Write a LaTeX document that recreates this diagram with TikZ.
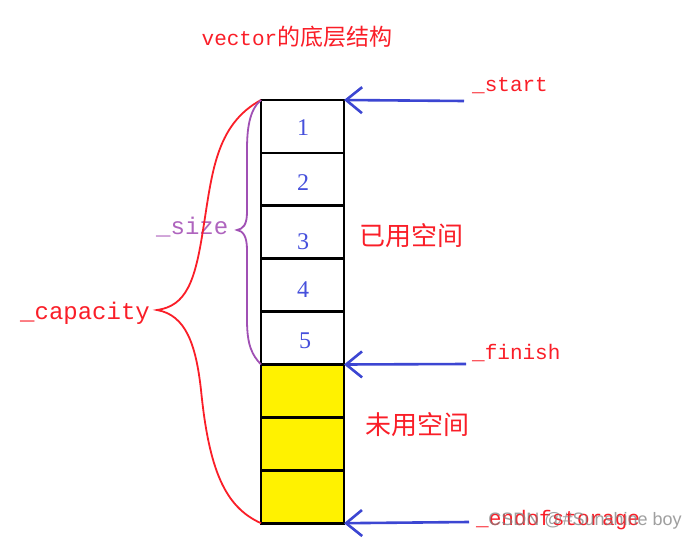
\documentclass[tikz,border=0pt]{standalone}
\usepackage{fontspec}
\setmainfont{Liberation Serif}
\newfontfamily\monof{Liberation Mono}
\newfontfamily\cjkf{Noto Sans CJK SC}
\newfontfamily\wmf{Liberation Sans}
\usetikzlibrary{arrows.meta}
\definecolor{rd}{RGB}{250,30,40}
\definecolor{bl}{RGB}{60,70,210}
\definecolor{nb}{RGB}{70,80,220}
\definecolor{pu}{RGB}{160,80,180}
\definecolor{pt}{RGB}{175,100,190}
\definecolor{yl}{RGB}{255,242,0}
\begin{document}
\begin{tikzpicture}[x=1pt,y=-1pt,
  cell/.style={draw=black,line width=2.8pt,minimum width=83pt,minimum height=52.9pt,inner sep=0pt,outer sep=0pt,anchor=north west},
  used/.style={cell,fill=white},
  free/.style={cell,fill=yl},
  num/.style={text=nb,inner sep=0pt,font=\fontsize{24}{24}\selectfont},
  ptr/.style={draw=bl,line width=2.6pt,-{Straight Barb[length=16pt,width=26pt]}},
  lab/.style={text=rd,anchor=base west,inner sep=0pt,font=\monof\fontsize{21}{21}\selectfont},
  blab/.style={anchor=base west,inner sep=0pt,font=\monof\fontsize{24}{24}\selectfont},
  cjklab/.style={text=rd,inner sep=0pt,font=\cjkf\fontsize{26}{26}\selectfont},
  brace/.style={line width=1.8pt}
]
\useasboundingbox (0,0) rectangle (699,541);
\fill[white] (0,0) rectangle (699,541);

% title
\node[text=rd,inner sep=0pt] (title) at (297,37) {\monof\fontsize{21}{21}\selectfont vector\cjkf\fontsize{23}{23}\selectfont 的底层结构};

% cells
\node[used] (c1) at (261,100) {};
\node[used] (c2) at (261,152.9) {};
\node[used] (c3) at (261,205.8) {};
\node[used] (c4) at (261,258.7) {};
\node[used] (c5) at (261,311.6) {};
\node[free] (c6) at (261,364.5) {};
\node[free] (c7) at (261,417.4) {};
\node[free] (c8) at (261,470.3) {};

% numbers
\node[num] (n1) at (303,128) {1};
\node[num] (n2) at (303,183) {2};
\node[num] (n3) at (303,242) {3};
\node[num] (n4) at (303,290) {4};
\node[num] (n5) at (305,341) {5};

% region labels
\node[cjklab] (usedlab) at (411,236) {已用空间};
\node[cjklab] (freelab) at (417,425) {未用空间};

% pointer labels
\node[lab] (startlab) at (472,91) {\_start};
\node[lab] (finishlab) at (472,359) {\_finish};
\node[lab] (endlab) at (476,525) {\_endofstorage};

% pointer arrows
\coordinate (sA) at (464,101);
\coordinate (fA) at (466,364);
\coordinate (eA) at (469,522);
\draw[ptr] (sA) -- (c1.north east);
\draw[ptr] (fA) -- (c5.south east);
\draw[ptr] (eA) -- (c8.south east);

% brace labels
\node[blab,text=pt] (sizelab) at (156,234) {\_size};
\node[blab,text=rd] (caplab) at (20,319) {\_capacity};

% capacity brace (red)
\draw[brace,draw=rd] (c1.north west) .. controls (215,125) and (212,175) .. (203,230)
  .. controls (195,282) and (186,306) .. (157,310)
  .. controls (186,315) and (196,345) .. (201,390)
  .. controls (209,470) and (225,507) .. (c8.south west);

% size brace (purple)
\draw[brace,draw=pu] (c1.north west) .. controls (249,110) and (247,130) .. (247,150)
  -- (247,212) .. controls (247,225) and (243,229) .. (237,230)
  .. controls (243,231) and (247,236) .. (247,250)
  -- (247,320) .. controls (247,345) and (252,355) .. (c5.south west);

% watermark
\node[text=gray,opacity=0.75,inner sep=0pt,font=\wmf\fontsize{18}{18}\selectfont] (wm) at (585,521) {CSDN @\#Sunshine boy};
\end{tikzpicture}
\end{document}
